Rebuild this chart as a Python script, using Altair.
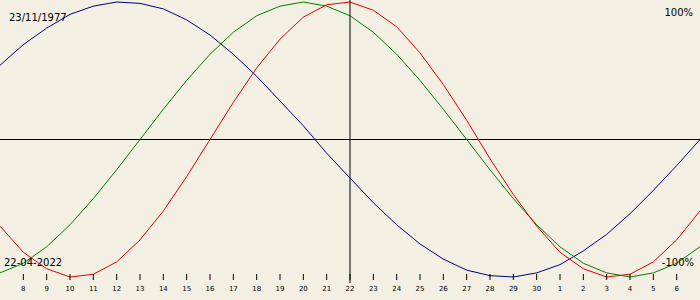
import altair as alt
import pandas as pd

# day offsets relative to 22-04-2022 (7 Apr .. 7 May)
offsets = list(range(-15, 16))

# values (%) read per day
physical = [-63, -82, -94, -100, -98, -89, -73, -52, -27, 0, 27, 52, 73, 89, 98, 100,
            94, 82, 63, 40, 14, -14, -40, -63, -82, -94, -100, -98, -89, -73, -52]
emotional = [-97, -90, -78, -62, -43, -22, 0, 22, 43, 62, 78, 90, 97, 100, 97, 90,
             78, 62, 43, 22, 0, -22, -43, -62, -78, -90, -97, -100, -97, -90, -78]
intellectual = [54, 69, 81, 91, 97, 100, 99, 95, 87, 76, 62, 46, 28, 10, -10, -28,
                -46, -62, -76, -87, -95, -99, -100, -97, -91, -81, -69, -54, -37, -19, 0]

tick_offsets = list(range(-14, 15))
tick_labels = ["8", "9", "10", "11", "12", "13", "14", "15", "16", "17", "18", "19", "20", "21",
               "22", "23", "24", "25", "26", "27", "28", "29", "30", "1", "2", "3", "4", "5", "6"]

series = ["intellectual", "emotional", "physical"]
colors = ["#000080", "#008000", "#e00000"]

rows = []
for name, vals in zip(series, [intellectual, emotional, physical]):
    for d, v in zip(offsets, vals):
        rows.append({"d": d, "v": v, "s": name})
df = pd.DataFrame(rows)
ticks = pd.DataFrame({"d": tick_offsets, "label": tick_labels})

xs = alt.Scale(domain=[-15, 15], nice=False, zero=False)
ys = alt.Scale(domain=[-100, 100], range=[277, 2], nice=False, zero=False)

lines = alt.Chart(df).mark_line(strokeWidth=1, interpolate="linear").encode(
    x=alt.X("d:Q", scale=xs, axis=None),
    y=alt.Y("v:Q", scale=ys, axis=None),
    color=alt.Color("s:N", scale=alt.Scale(domain=series, range=colors), legend=None),
    order=alt.value(0),
    detail="s:N",
)

hline = alt.Chart(pd.DataFrame({"v": [0]})).mark_rule(color="black", strokeWidth=1).encode(
    y=alt.Y("v:Q", scale=ys, axis=None), x=alt.value(0), x2=alt.value(700)
)
vline = alt.Chart(pd.DataFrame({"d": [0]})).mark_rule(color="black", strokeWidth=1).encode(
    x=alt.X("d:Q", scale=xs, axis=None), y=alt.value(0), y2=alt.value(283)
)

tick_marks = alt.Chart(ticks).mark_rule(color="black", strokeWidth=1).encode(
    x=alt.X("d:Q", scale=xs, axis=None), y=alt.value(274), y2=alt.value(280)
)
tick_text = alt.Chart(ticks).mark_text(
    font="DejaVu Sans", fontSize=7, color="black", align="center", baseline="alphabetic"
).encode(x=alt.X("d:Q", scale=xs, axis=None), y=alt.value(291), text="label:N")

labels = pd.DataFrame({
    "t": ["23/11/1977", "22-04-2022"],
    "px": [9, 4],
    "py": [21, 266],
})
left_text = alt.Chart(labels).mark_text(
    font="DejaVu Sans", fontSize=10, color="black", align="left", baseline="alphabetic"
).encode(x=alt.X("px:Q", scale=None), y=alt.Y("py:Q", scale=None), text="t:N")

rlabels = pd.DataFrame({"t": ["100%", "-100%"], "px": [693, 694], "py": [16, 266]})
right_text = alt.Chart(rlabels).mark_text(
    font="DejaVu Sans", fontSize=10, color="black", align="right", baseline="alphabetic"
).encode(x=alt.X("px:Q", scale=None), y=alt.Y("py:Q", scale=None), text="t:N")

chart = alt.layer(hline, lines, vline, tick_marks, tick_text, left_text, right_text).properties(
    width=700, height=300, background="#f3efe3", padding=0,
    autosize=alt.AutoSizeParams(type="none"),
).configure_view(stroke=None)

chart.save("out.html", embed_options={"renderer": "svg", "actions": False})
